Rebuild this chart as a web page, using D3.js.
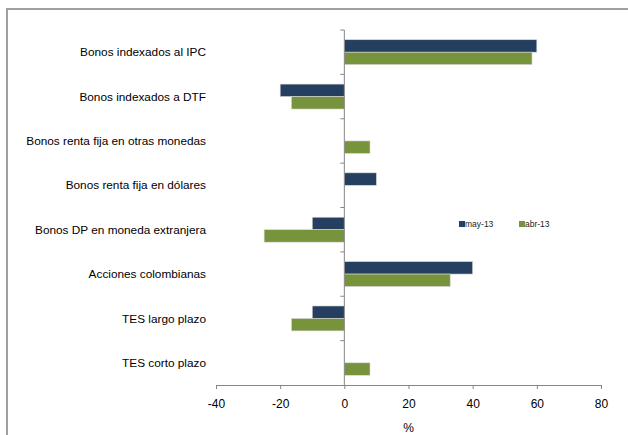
<!DOCTYPE html>
<html>
<head>
<meta charset="utf-8">
<script src="https://cdn.jsdelivr.net/npm/d3@7"></script>
<style>
	body { margin: 0; background: #fff; }
	text { font-family: 'Liberation Sans', Arial, sans-serif; }
</style>
</head>
<body>
<div id="barChart"></div>
<script>
// categories, top to bottom
var categories = [
	'Bonos indexados al IPC',
	'Bonos indexados a DTF',
	'Bonos renta fija en otras monedas',
	'Bonos renta fija en dólares',
	'Bonos DP en moneda extranjera',
	'Acciones colombianas',
	'TES largo plazo',
	'TES corto plazo',
];
var seriesNames = ['may-13', 'abr-13'];
var may13 = [60, -20, 0, 10, -10, 40, -10, 0];
var abr13 = [58.5, -16.5, 8, 0, -25, 33, -16.5, 8];
var xTicks = [-40, -20, 0, 20, 40, 60, 80];
var colors = ['#243f60', '#77933c'];

var width = 628;
var height = 435;
var margin = { top: 30, right: 27, bottom: 50, left: 216 };

var svg = d3
	.select('#barChart')
	.append('svg')
	.attr('width', width)
	.attr('height', height);

// outer frame (cut off on the right and bottom)
svg.append('rect')
	.attr('x', 7)
	.attr('y', 9)
	.attr('width', 800)
	.attr('height', 600)
	.attr('fill', 'none')
	.attr('stroke', '#a0a0a0')
	.attr('stroke-width', 2);

var x = d3.scaleLinear().domain([-40, 80]).range([margin.left, width - margin.right]);
var y = d3.scaleBand().domain(categories).range([margin.top, height - margin.bottom]);
var inner = d3.scaleBand().domain(seriesNames).range([0, y.bandwidth()]).paddingOuter(0.78);

var rows = categories.map(function (c, i) {
	return { cat: c, values: [may13[i], abr13[i]] };
});

// bars
svg.selectAll('g.row')
	.data(rows)
	.enter()
	.append('g')
	.attr('class', 'row')
	.attr('transform', function (d) {
		return 'translate(0,' + y(d.cat) + ')';
	})
	.selectAll('rect')
	.data(function (d) {
		return d.values.map(function (v, j) {
			return { s: seriesNames[j], v: v, j: j };
		});
	})
	.enter()
	.filter(function (d) {
		return d.v !== 0;
	})
	.append('rect')
	.attr('x', function (d) {
		return Math.min(x(0), x(d.v));
	})
	.attr('y', function (d) {
		return inner(d.s);
	})
	.attr('width', function (d) {
		return Math.abs(x(d.v) - x(0));
	})
	.attr('height', inner.bandwidth())
	.attr('fill', function (d) {
		return colors[d.j];
	})
	.attr('stroke', '#d9d9d9')
	.attr('stroke-width', 0.6);

// X axis
var xAxis = svg.append('g')
	.attr('transform', 'translate(0,' + (height - margin.bottom) + ')')
	.call(d3.axisBottom(x).tickValues(xTicks).tickSize(4).tickSizeOuter(0)
		.tickFormat(function (d) { return String(d); }));
xAxis.select('.domain').attr('stroke', '#868686');
xAxis.selectAll('.tick line').attr('stroke', '#868686');
xAxis.selectAll('text')
	.attr('fill', '#000')
	.attr('font-size', '12px')
	.attr('dy', '1.35em');

svg.append('text')
	.attr('x', x(20))
	.attr('y', 432)
	.attr('text-anchor', 'middle')
	.attr('font-size', '12px')
	.text('%');

// Y axis at zero
var y0 = svg.append('g').attr('transform', 'translate(' + x(0) + ',0)');
y0.append('line')
	.attr('y1', margin.top)
	.attr('y2', height - margin.bottom)
	.attr('stroke', '#868686');
var boundaries = categories.map(function (c) {
	return y(c);
});
y0.selectAll('line.tk')
	.data(boundaries)
	.enter()
	.append('line')
	.attr('class', 'tk')
	.attr('x1', -4)
	.attr('x2', 0)
	.attr('y1', function (d) {
		return d;
	})
	.attr('y2', function (d) {
		return d;
	})
	.attr('stroke', '#868686');

// category labels
svg.selectAll('text.cat')
	.data(categories)
	.enter()
	.append('text')
	.attr('class', 'cat')
	.attr('x', 206)
	.attr('y', function (d) {
		return y(d) + y.bandwidth() / 2;
	})
	.attr('dy', '0.35em')
	.attr('text-anchor', 'end')
	.attr('font-size', '11.8px')
	.attr('fill', '#000')
	.text(function (d) {
		return d;
	});

// legend
var legendX = [459, 519];
var legend = svg.selectAll('g.legend')
	.data(seriesNames)
	.enter()
	.append('g')
	.attr('class', 'legend')
	.attr('transform', function (d, i) {
		return 'translate(' + legendX[i] + ',221)';
	});
legend.append('rect')
	.attr('width', 6)
	.attr('height', 6)
	.attr('fill', function (d, i) {
		return colors[i];
	});
legend.append('text')
	.attr('x', 6)
	.attr('y', 3)
	.attr('dy', '0.35em')
	.attr('font-size', '8.5px')
	.attr('fill', '#222')
	.text(function (d) {
		return d;
	});
</script>
</body>
</html>
